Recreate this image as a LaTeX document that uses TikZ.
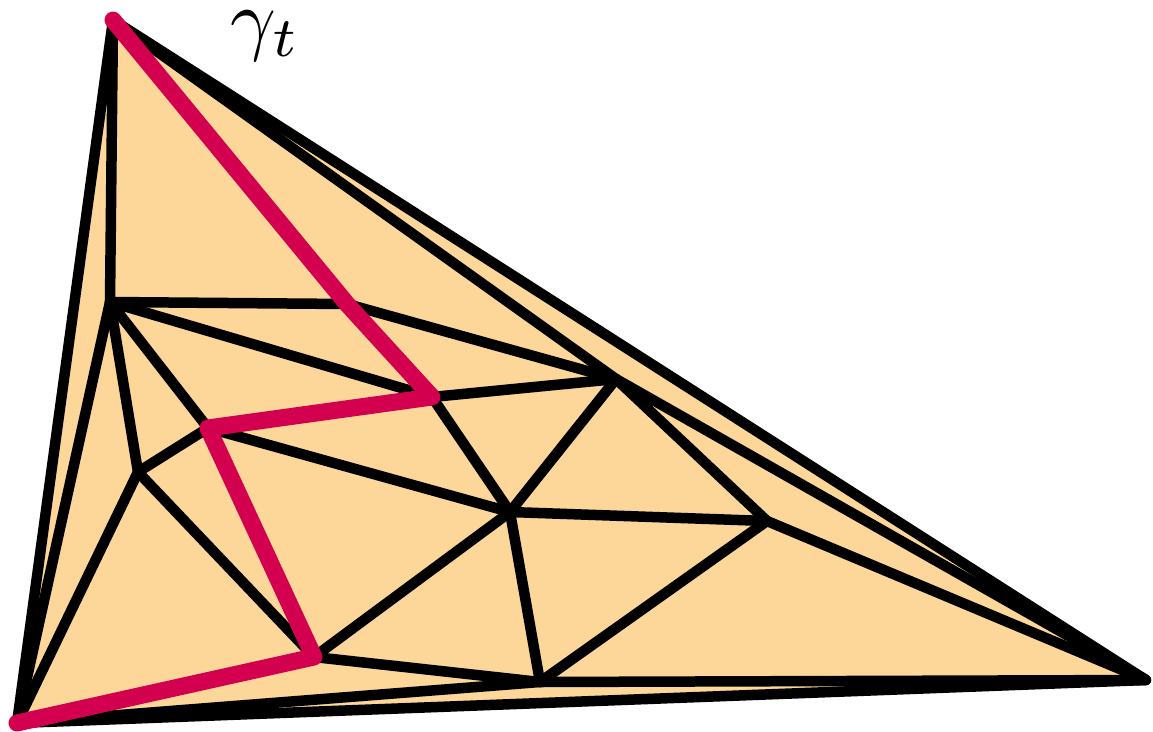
\documentclass[tikz,border=0pt]{standalone}
\definecolor{fillor}{RGB}{253,214,153}
\definecolor{redp}{RGB}{210,0,78}
\begin{document}
\begin{tikzpicture}[x=1pt,y=-1pt,
  edge/.style={draw=black,line width=10.5pt,line cap=round,line join=round},
  path/.style={draw=redp,line width=17pt,line cap=round,line join=round}]
\useasboundingbox (0,0) rectangle (1153,731);
\coordinate (A) at (113,20);
\coordinate (B) at (17,723);
\coordinate (C) at (1146,680);
\coordinate (D) at (110,302);
\coordinate (M) at (347,304);
\coordinate (E) at (616,379);
\coordinate (F) at (432,397);
\coordinate (G) at (208,428);
\coordinate (H) at (138,472);
\coordinate (I) at (510,512);
\coordinate (J) at (767,521);
\coordinate (K) at (314,657);
\coordinate (L) at (540,682);
\fill[fillor] (A) -- (B) -- (C) -- cycle;
\draw[edge] (A) -- (B) -- (C) -- cycle;
\draw[edge] (A) -- (D);
\draw[edge] (A) -- (E);
\draw[edge] (E) -- (C);
\draw[edge] (J) -- (C);
\draw[edge] (L) -- (C);
\draw[edge] (B) -- (L);
\draw[edge] (D) -- (B);
\draw[edge] (D) -- (M);
\draw[edge] (M) -- (E);
\draw[edge] (D) -- (F);
\draw[edge] (D) -- (G);
\draw[edge] (D) -- (H);
\draw[edge] (G) -- (H);
\draw[edge] (H) -- (B);
\draw[edge] (H) -- (K);
\draw[edge] (G) -- (I);
\draw[edge] (F) -- (E);
\draw[edge] (F) -- (I);
\draw[edge] (E) -- (I);
\draw[edge] (E) -- (J);
\draw[edge] (I) -- (J);
\draw[edge] (I) -- (K);
\draw[edge] (I) -- (L);
\draw[edge] (J) -- (L);
\draw[edge] (K) -- (L);
\draw[path] (A) -- (M) -- (F) -- (G) -- (K) -- (B);
\node[scale=8,anchor=base west,inner sep=0pt] (lbl) at (229,45) {$\gamma_t$};
\end{tikzpicture}
\end{document}
